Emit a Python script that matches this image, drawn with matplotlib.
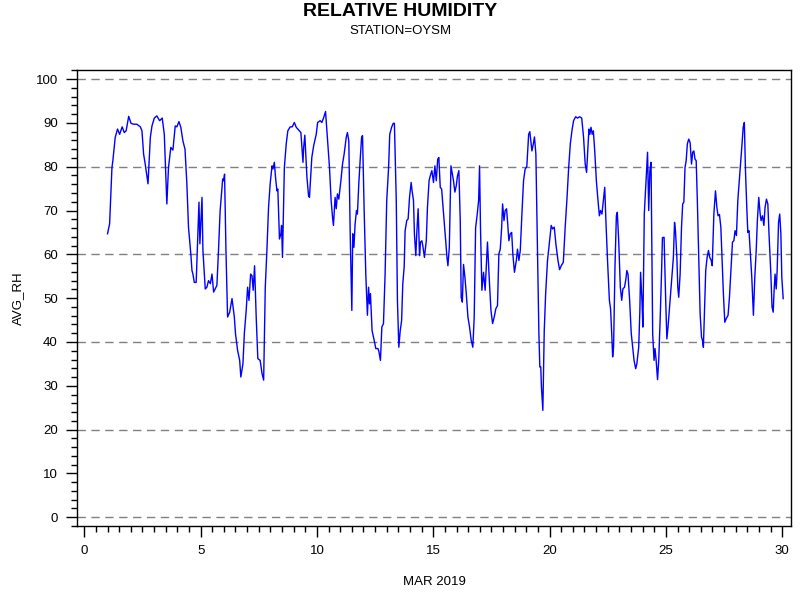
import numpy as np
import matplotlib
matplotlib.use('Agg')
import matplotlib.pyplot as plt
from matplotlib.ticker import MultipleLocator

plt.rcParams['font.family'] = ['Liberation Sans', 'DejaVu Sans']

# day of March 2019 (fractional) and average relative humidity
days = [1.00, 1.09, 1.19, 1.23, 1.33, 1.43, 1.52, 1.63, 1.72, 1.80, 1.91, 2.01, 2.12, 2.26,
        2.41, 2.48, 2.55, 2.62, 2.74, 2.84, 2.91, 3.01, 3.12, 3.24, 3.35, 3.44, 3.55, 3.62,
        3.72, 3.81, 3.91, 3.98, 4.07, 4.15, 4.24, 4.33, 4.41, 4.48, 4.58, 4.63, 4.67, 4.73,
        4.81, 4.87, 4.93, 4.97, 5.06, 5.10, 5.20, 5.27, 5.34, 5.42,
        5.49, 5.56, 5.70, 5.77, 5.84, 5.95, 5.99, 6.03, 6.09, 6.16, 6.25, 6.35, 6.45, 6.50,
        6.59, 6.68, 6.73, 6.82, 6.88, 6.96, 7.02, 7.08, 7.15, 7.21, 7.26, 7.32, 7.39, 7.46,
        7.56, 7.64, 7.71, 7.78, 7.85, 7.92, 7.99, 8.07, 8.11, 8.17, 8.22, 8.28, 8.32, 8.39,
        8.45, 8.48, 8.52, 8.60, 8.68, 8.75, 8.85, 8.94, 9.03, 9.11, 9.21, 9.31, 9.40, 9.43,
        9.48, 9.57, 9.64, 9.68, 9.78, 9.86, 9.97, 10.03, 10.14, 10.21, 10.29,
        10.37, 10.46, 10.54, 10.61, 10.67, 10.71, 10.78, 10.83, 10.88, 10.94, 11.03, 11.10,
        11.17, 11.26, 11.31, 11.37, 11.43, 11.50, 11.54, 11.59, 11.64, 11.70, 11.74, 11.80,
        11.86, 11.92, 11.96, 12.03, 12.10, 12.17, 12.22, 12.26, 12.30, 12.37, 12.46, 12.53,
        12.62, 12.66, 12.73, 12.79, 12.86, 12.93, 13.00, 13.08, 13.13, 13.21, 13.28, 13.33,
        13.41, 13.46, 13.52, 13.58, 13.64, 13.69, 13.75, 13.79, 13.86, 13.92, 13.98, 14.05,
        14.09, 14.15, 14.19, 14.25, 14.29, 14.35, 14.41, 14.45, 14.51, 14.55, 14.62, 14.70,
        14.75, 14.82,
        14.87, 14.94, 15.01, 15.07, 15.13, 15.19, 15.24, 15.30, 15.36, 15.41, 15.47, 15.53,
        15.59, 15.63, 15.69, 15.76, 15.82, 15.87, 15.93, 15.99, 16.04, 16.10, 16.16, 16.20,
        16.25, 16.30, 16.36, 16.42, 16.49, 16.56, 16.63, 16.70, 16.76, 16.82, 16.89, 16.95,
        16.99, 17.03, 17.09, 17.16, 17.23, 17.33, 17.41, 17.48, 17.55, 17.62, 17.69, 17.76,
        17.82, 17.88, 17.94, 17.98, 18.04, 18.09, 18.15, 18.19, 18.25, 18.31, 18.37, 18.42,
        18.49, 18.57, 18.62, 18.68, 18.74, 18.81, 18.88, 18.95, 19.02, 19.10, 19.15, 19.24,
        19.30, 19.35, 19.41, 19.48, 19.54, 19.58, 19.62, 19.65, 19.71, 19.77, 19.83, 19.91,
        20.00, 20.07, 20.13, 20.20, 20.27, 20.36, 20.43, 20.50, 20.59, 20.67, 20.75, 20.82,
        20.89, 20.96, 21.03, 21.12, 21.20, 21.29, 21.38, 21.46, 21.53, 21.59, 21.65, 21.69,
        21.73, 21.78, 21.83, 21.88, 21.94, 22.01, 22.08, 22.14, 22.19, 22.25, 22.31, 22.37,
        22.42, 22.49, 22.57, 22.62, 22.67, 22.71, 22.75, 22.81, 22.87, 22.91, 22.97, 23.04,
        23.10, 23.15, 23.22, 23.28, 23.32, 23.37, 23.44, 23.51, 23.57, 23.63, 23.70, 23.75,
        23.83, 23.88, 23.91, 23.97, 24.01, 24.07, 24.14, 24.21, 24.26, 24.31, 24.36,
        24.43, 24.49, 24.53, 24.58, 24.64, 24.69, 24.75, 24.81, 24.85, 24.92, 24.99, 25.04,
        25.09, 25.18, 25.27, 25.32, 25.37, 25.41, 25.47, 25.51, 25.55, 25.61, 25.67, 25.72,
        25.77, 25.82, 25.87, 25.92, 25.98, 26.04, 26.10, 26.15, 26.20, 26.25, 26.30, 26.35,
        26.41, 26.47, 26.53, 26.57, 26.61, 26.66, 26.71, 26.77, 26.83, 26.88, 26.94, 26.99,
        27.06, 27.13, 27.19, 27.24, 27.30, 27.36, 27.41, 27.47, 27.53, 27.59, 27.67, 27.73,
        27.80, 27.86, 27.92, 27.97, 28.03, 28.09, 28.15, 28.20, 28.26, 28.32, 28.37, 28.42,
        28.48, 28.52, 28.57, 28.63, 28.69, 28.76, 28.82, 28.88, 28.93, 28.99, 29.05, 29.09,
        29.15, 29.21, 29.26, 29.32, 29.38, 29.43, 29.51, 29.56, 29.61, 29.65, 29.69, 29.74,
        29.78, 29.84, 29.89, 29.94, 29.98, 30.04]

avg_rh = [64.7, 67.0, 79.8, 81.4, 86.7, 88.6, 87.4, 89.1, 87.8, 88.2, 91.5, 89.9, 89.7, 89.7,
          89.1, 88.2, 82.9, 80.6, 76.1, 86.7, 89.3, 91.1, 91.6, 90.5, 91.1, 87.4, 71.5, 79.8,
          84.4, 83.8, 89.3, 89.1, 90.3, 89.0, 85.9, 84.0, 76.1, 66.2, 60.1, 56.3, 55.5, 53.6,
          53.6, 62.4, 71.9, 62.4, 73.0, 60.9, 52.1, 52.5, 54.0, 53.3,
          55.5, 51.4, 52.9, 60.9, 70.0, 77.2, 76.8, 78.3, 60.9, 45.7, 46.8, 49.9, 45.7, 41.9,
          38.1, 35.8, 32.0, 35.0, 41.9, 47.2, 52.5, 49.5, 55.5, 55.1, 51.8, 57.4, 45.7, 36.2,
          35.8, 32.8, 31.3, 52.5, 60.9, 70.7, 76.1, 80.2, 79.5, 81.0, 77.6, 74.5, 74.9, 63.5,
          64.7, 66.6, 59.3, 79.8, 85.2, 88.2, 89.1, 89.1, 90.1, 89.0, 88.4, 87.8, 81.0, 84.4,
          87.2, 77.6, 73.4, 73.0, 82.1, 84.8, 87.4, 90.1, 90.5, 90.1, 91.2,
          92.6, 85.9, 79.8, 72.3, 68.5, 66.6, 73.0, 70.4, 73.8, 72.6, 76.8, 80.6,
          82.9, 86.7, 87.8, 85.9, 64.7, 47.2, 64.7, 61.6, 66.9, 70.0, 69.2, 76.1,
          81.7, 86.7, 87.1, 70.0, 55.5, 46.1, 52.5, 48.7, 51.0, 42.6, 40.4, 38.5,
          38.5, 37.9, 35.8, 43.4, 44.2, 55.5, 72.3, 79.8, 87.4, 89.0, 89.9, 89.9,
          72.3, 49.5, 38.8, 42.6, 44.9, 53.3, 57.1, 65.4, 67.7, 68.1, 73.0, 76.4,
          74.5, 72.3, 64.7, 59.7, 64.7, 70.4, 59.7, 62.8, 63.1, 62.0, 59.3, 63.1,
          70.7, 76.8,
          77.9, 79.1, 76.4, 80.2, 76.8, 81.7, 82.1, 75.3, 74.9, 71.5, 67.7, 63.1,
          59.3, 57.4, 61.6, 80.2, 78.3, 76.8, 74.2, 75.7, 77.9, 79.1, 67.7, 50.2,
          49.1, 57.7, 54.8, 51.0, 45.7, 43.4, 40.4, 38.8, 45.7, 66.0, 69.2, 72.3,
          80.2, 66.0, 51.8, 55.9, 51.8, 62.8, 54.0, 47.2, 44.2, 45.7, 47.6, 48.3,
          60.1, 61.2, 66.2, 71.5, 67.7, 70.0, 70.4, 67.7, 63.1, 64.7, 65.0, 60.1,
          55.9, 58.6, 61.2, 58.6, 60.9, 69.2, 76.8, 79.5, 80.0, 87.4, 88.0, 83.6,
          85.2, 86.8, 82.9, 60.9, 41.9, 34.3, 34.3, 29.7, 24.4, 42.6, 51.0, 58.6,
          63.1, 66.6, 65.8, 66.2, 62.4, 58.6, 56.5, 57.4, 58.2, 66.2, 73.0, 79.8,
          85.2, 88.2, 90.5, 91.4, 91.1, 91.4, 91.1, 86.7, 80.6, 78.7, 84.4, 88.6,
          87.4, 89.0, 87.4, 88.2, 83.6, 76.8, 72.3, 68.8, 70.0, 69.2, 72.3, 75.3,
          67.7, 58.6, 49.5, 47.6, 41.9, 36.6, 38.8, 57.1, 68.8, 69.6, 63.1, 52.5,
          49.5, 52.1, 52.5, 54.4, 56.3, 55.5, 49.5, 41.9, 38.8, 35.8, 33.9, 35.0,
          38.8, 47.2, 55.9, 49.5, 43.4, 69.2, 76.1, 83.3, 70.0, 79.1, 81.0,
          41.9, 35.8, 38.5, 35.8, 31.4, 35.8, 44.9, 55.5, 63.8, 63.9, 49.5, 40.7,
          43.4, 49.5, 55.5, 59.3, 67.3, 65.4, 59.3, 52.5, 50.2, 55.5, 66.2, 71.5,
          71.9, 79.8, 81.4, 85.2, 86.3, 85.5, 80.6, 83.3, 83.6, 81.7, 81.4, 72.3,
          59.3, 46.4, 41.1, 40.4, 38.8, 47.2, 56.3, 59.3, 60.9, 59.3, 58.7, 57.4,
          69.2, 74.5, 70.7, 68.8, 69.1, 66.2, 59.3, 51.0, 44.5, 45.3, 46.1, 50.2,
          57.1, 62.8, 63.1, 65.4, 64.3, 72.3, 76.8, 80.2, 84.4, 89.0, 90.1, 78.9,
          70.0, 65.0, 65.4, 60.1, 54.8, 46.1, 54.8, 60.9, 67.7, 73.0, 69.2, 67.7,
          68.8, 66.6, 70.7, 72.6, 71.5, 64.7, 55.5, 48.0, 46.8, 51.8, 55.5, 52.1,
          56.3, 67.3, 69.2, 64.7, 54.8, 49.9]

x_ticks = [0, 5, 10, 15, 20, 25, 30]
y_ticks = [0, 10, 20, 30, 40, 50, 60, 70, 80, 90, 100]
grid_levels = [0, 20, 40, 60, 80, 100]

fig = plt.figure(figsize=(8, 6), dpi=100)
ax = fig.add_axes([0.0966, 0.1233, 0.8917, 0.7595])

for g in grid_levels:
    ax.axhline(g, color='#808080', linestyle=(0, (6, 4)), linewidth=1, zorder=1)

ax.plot(days, avg_rh, color='#0000ff', linewidth=1, zorder=2)

ax.set_xlim(-0.30, 30.36)
ax.set_ylim(-2.0, 102.0)
ax.set_xticks(x_ticks)
ax.set_yticks(y_ticks)
ax.xaxis.set_minor_locator(MultipleLocator(0.5))
ax.yaxis.set_minor_locator(MultipleLocator(2))
ax.tick_params(which='major', direction='out', length=8, width=1, labelsize=9.5, pad=6)
ax.tick_params(which='minor', direction='out', length=4, width=1)
for s in ax.spines.values():
    s.set_linewidth(1)

ax.set_xlabel('MAR 2019', fontsize=9.5, labelpad=13)
ax.set_ylabel('AVG_RH', fontsize=9.5, labelpad=8)

fig.text(0.5, 1 - 11 / 600, 'RELATIVE HUMIDITY', ha='center', va='center', fontsize=14, fontweight='bold')
fig.text(0.5, 1 - 31 / 600, 'STATION=OYSM', ha='center', va='center', fontsize=9.5)

fig.savefig('out.png', dpi=100)
